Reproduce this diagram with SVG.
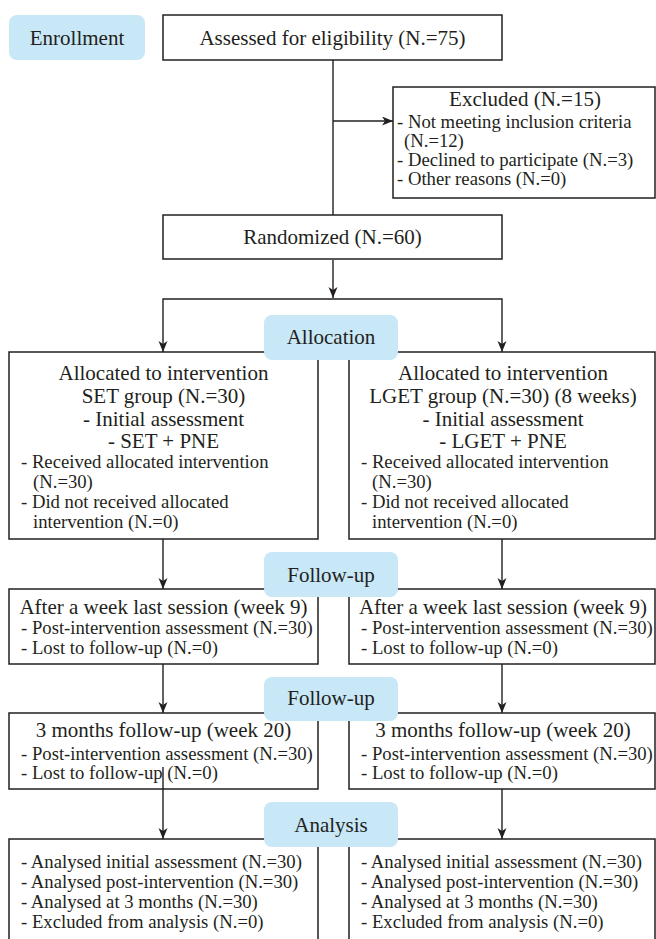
<svg xmlns="http://www.w3.org/2000/svg" width="656" height="939" viewBox="0 0 656 939">
<style>
text{font-family:"Liberation Serif","Times New Roman",serif;fill:#231f20}
.h{font-size:21px}
.b{font-size:18.7px}
.c{text-anchor:middle}
.box{fill:#fff;stroke:#231f20;stroke-width:1.5}
.badge{fill:#c8e7f7;stroke:none}
.ln{fill:none;stroke:#231f20;stroke-width:1.4}
</style>
<defs>
<marker id="ah" markerUnits="userSpaceOnUse" markerWidth="12" markerHeight="10" refX="11" refY="4.5" orient="auto">
<path d="M0,0 L11,4.5 L0,9 L3,4.5 z" fill="#231f20"/>
</marker>
</defs>
<rect width="656" height="939" fill="#fff"/>

<g id="connectors">
<path class="ln" d="M333,60 V215"/>
<path class="ln" d="M333,121 H393" marker-end="url(#ah)"/>
<path class="ln" d="M333,260 V298" marker-end="url(#ah)"/>
<path class="ln" d="M333,299 H163 V352" marker-end="url(#ah)"/>
<path class="ln" d="M333,299 H502 V352" marker-end="url(#ah)"/>
<path class="ln" d="M163,539 V589" marker-end="url(#ah)"/>
<path class="ln" d="M502,539 V589" marker-end="url(#ah)"/>
<path class="ln" d="M163,664 V713" marker-end="url(#ah)"/>
<path class="ln" d="M502,664 V713" marker-end="url(#ah)"/>
<path class="ln" d="M502,789 V839" marker-end="url(#ah)"/>
</g>

<g id="assessed">
<rect class="box" x="163" y="15" width="339" height="45"/>
<text class="h c" x="332.5" y="44.5">Assessed for eligibility (N.=75)</text>
</g>

<g id="excluded">
<rect class="box" x="393" y="87" width="262" height="111"/>
<text class="h c" x="525" y="106">Excluded (N.=15)</text>
<text class="b" x="397" y="128">- Not meeting inclusion criteria</text>
<text class="b" x="404" y="147">(N.=12)</text>
<text class="b" x="397" y="166">- Declined to participate (N.=3)</text>
<text class="b" x="397" y="185">- Other reasons (N.=0)</text>
</g>

<g id="randomized">
<rect class="box" x="163" y="215" width="339" height="44"/>
<text class="h c" x="332.5" y="244">Randomized (N.=60)</text>
</g>

<g id="alloc-set">
<rect class="box" x="9" y="352" width="309" height="187"/>
<text class="h c" x="163.5" y="380">Allocated to intervention</text>
<text class="h c" x="163.5" y="403">SET group (N.=30)</text>
<text class="h c" x="163.5" y="426">- Initial assessment</text>
<text class="h c" x="163.5" y="448">- SET + PNE</text>
<text class="b" x="21" y="468">- Received allocated intervention</text>
<text class="b" x="33" y="488">(N.=30)</text>
<text class="b" x="21" y="508">- Did not received allocated</text>
<text class="b" x="33" y="528">intervention (N.=0)</text>
</g>

<g id="alloc-lget">
<rect class="box" x="349" y="352" width="306" height="187"/>
<text class="h c" x="503" y="380">Allocated to intervention</text>
<text class="h c" x="503" y="403">LGET group (N.=30) (8 weeks)</text>
<text class="h c" x="503" y="426">- Initial assessment</text>
<text class="h c" x="503" y="448">- LGET + PNE</text>
<text class="b" x="361" y="468">- Received allocated intervention</text>
<text class="b" x="372" y="488">(N.=30)</text>
<text class="b" x="361" y="508">- Did not received allocated</text>
<text class="b" x="372" y="528">intervention (N.=0)</text>
</g>

<g id="fu1-set">
<rect class="box" x="9" y="589" width="309" height="75"/>
<text class="h c" x="163.5" y="614">After a week last session (week 9)</text>
<text class="b" x="21" y="634">- Post-intervention assessment (N.=30)</text>
<text class="b" x="21" y="654">- Lost to follow-up (N.=0)</text>
</g>

<g id="fu1-lget">
<rect class="box" x="349" y="589" width="306" height="75"/>
<text class="h c" x="503" y="614">After a week last session (week 9)</text>
<text class="b" x="361" y="634">- Post-intervention assessment (N.=30)</text>
<text class="b" x="361" y="654">- Lost to follow-up (N.=0)</text>
</g>

<g id="fu2-set">
<rect class="box" x="9" y="713" width="309" height="76"/>
<text class="h c" x="163.5" y="737">3 months follow-up (week 20)</text>
<text class="b" x="21" y="760">- Post-intervention assessment (N.=30)</text>
<text class="b" x="21" y="779">- Lost to follow-up (N.=0)</text>
</g>

<g id="fu2-lget">
<rect class="box" x="349" y="713" width="306" height="76"/>
<text class="h c" x="503" y="737">3 months follow-up (week 20)</text>
<text class="b" x="361" y="760">- Post-intervention assessment (N.=30)</text>
<text class="b" x="361" y="779">- Lost to follow-up (N.=0)</text>
</g>

<path class="ln" d="M163,767 V839" marker-end="url(#ah)"/>

<g id="analysis-set">
<rect class="box" x="9" y="839" width="309" height="110"/>
<text class="b" x="21" y="868">- Analysed initial assessment (N.=30)</text>
<text class="b" x="21" y="888">- Analysed post-intervention (N.=30)</text>
<text class="b" x="21" y="908">- Analysed at 3 months (N.=30)</text>
<text class="b" x="21" y="928">- Excluded from analysis (N.=0)</text>
</g>

<g id="analysis-lget">
<rect class="box" x="349" y="839" width="306" height="110"/>
<text class="b" x="361" y="868">- Analysed initial assessment (N.=30)</text>
<text class="b" x="361" y="888">- Analysed post-intervention (N.=30)</text>
<text class="b" x="361" y="908">- Analysed at 3 months (N.=30)</text>
<text class="b" x="361" y="928">- Excluded from analysis (N.=0)</text>
</g>

<g id="badge-enrollment">
<rect class="badge" x="9" y="15" width="136" height="45" rx="8"/>
<text class="h c" x="77" y="44.5">Enrollment</text>
</g>
<g id="badge-allocation">
<rect class="badge" x="264" y="315" width="134" height="45" rx="8"/>
<text class="h c" x="331" y="344">Allocation</text>
</g>
<g id="badge-followup1">
<rect class="badge" x="264" y="552" width="134" height="45" rx="8"/>
<text class="h c" x="331" y="582">Follow-up</text>
</g>
<g id="badge-followup2">
<rect class="badge" x="264" y="677" width="134" height="44" rx="8"/>
<text class="h c" x="331" y="705">Follow-up</text>
</g>
<g id="badge-analysis">
<rect class="badge" x="264" y="802" width="134" height="45" rx="8"/>
<text class="h c" x="331" y="832">Analysis</text>
</g>
</svg>
